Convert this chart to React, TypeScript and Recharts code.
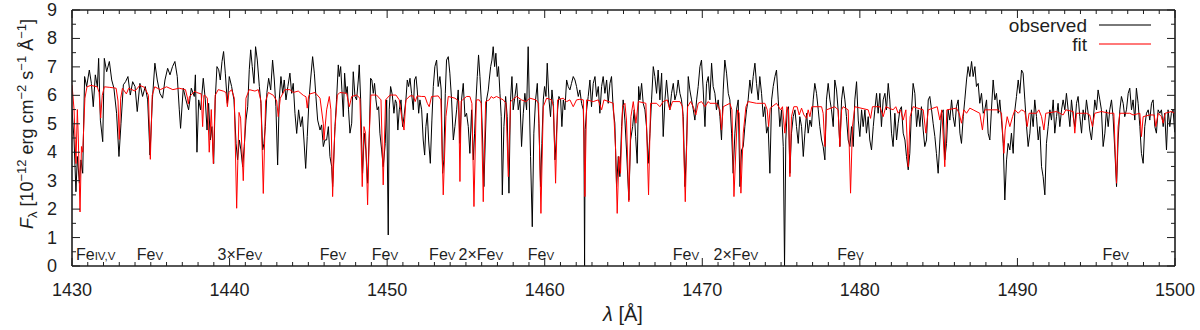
import React from "react";
import { LineChart, Line, XAxis, YAxis, ReferenceDot, Legend } from "recharts";

// wavelength [Å], flux [1e-12 erg cm^-2 s^-1 Å^-1]
const observed: [number, number][] = [
  [1430.0, 5.5], [1430.13, 4.43], [1430.25, 2.61], [1430.34, 3.85], [1430.47, 2.91], [1430.57, 3.73], [1430.68, 3.26],
  [1430.8, 6.66], [1430.93, 6.31], [1431.1, 6.89], [1431.23, 6.42], [1431.35, 5.6], [1431.48, 6.72], [1431.61, 6.3],
  [1431.69, 7.3], [1431.8, 5.13], [1431.95, 4.37], [1432.05, 7.3], [1432.2, 6.83], [1432.37, 7.19], [1432.52, 6.54],
  [1432.66, 6.25], [1432.83, 5.37], [1432.98, 3.85], [1433.11, 5.02], [1433.26, 6.37], [1433.4, 6.48], [1433.55, 6.66],
  [1433.7, 6.01], [1433.85, 6.48], [1434.0, 6.31], [1434.14, 5.43], [1434.31, 6.42], [1434.48, 5.96], [1434.65, 6.31],
  [1434.8, 5.84], [1434.95, 3.9], [1435.1, 5.84], [1435.26, 7.13], [1435.41, 6.54], [1435.58, 6.07], [1435.75, 5.9],
  [1435.9, 6.54], [1436.07, 6.95], [1436.22, 6.72], [1436.38, 7.01], [1436.53, 7.19], [1436.68, 6.66], [1436.81, 5.49],
  [1436.89, 4.84], [1437.06, 6.25], [1437.23, 5.84], [1437.4, 5.49], [1437.57, 6.25], [1437.76, 5.96],
  [1437.83, 6.72], [1437.93, 4.0], [1438.04, 5.84], [1438.16, 5.49], [1438.33, 6.6], [1438.46, 5.84], [1438.57, 4.78],
  [1438.67, 5.72], [1438.78, 4.43], [1438.88, 4.9], [1438.99, 3.6], [1439.09, 5.84], [1439.2, 7.01], [1439.31, 6.9],
  [1439.41, 6.54], [1439.52, 7.19], [1439.62, 7.54], [1439.73, 6.78], [1439.86, 5.72], [1439.98, 6.66], [1440.13, 6.31],
  [1440.28, 5.84], [1440.41, 4.31], [1440.51, 3.73], [1440.62, 4.43], [1440.72, 4.08], [1440.83, 3.49], [1440.93, 4.2],
  [1441.04, 5.13], [1441.15, 5.6], [1441.25, 6.9], [1441.34, 7.6], [1441.44, 7.01], [1441.55, 6.42], [1441.65, 7.71],
  [1441.76, 7.24], [1441.89, 6.31], [1441.99, 5.72], [1442.1, 4.08], [1442.18, 4.3], [1442.27, 4.9], [1442.37, 6.1],
  [1442.48, 6.6], [1442.61, 6.19], [1442.73, 7.24], [1442.84, 6.54], [1442.94, 5.6], [1443.05, 3.55], [1443.15, 5.84],
  [1443.26, 6.66], [1443.37, 6.07], [1443.47, 6.54], [1443.58, 5.84], [1443.7, 6.31], [1443.83, 6.78], [1443.94, 6.07],
  [1444.04, 6.42], [1444.15, 5.37], [1444.26, 4.66], [1444.38, 5.49], [1444.51, 4.9], [1444.62, 5.25], [1444.72, 4.43],
  [1444.83, 3.43], [1444.93, 4.55], [1445.04, 5.84], [1445.14, 6.54], [1445.27, 7.36], [1445.38, 6.78], [1445.48, 5.96],
  [1445.59, 5.13], [1445.74, 4.78], [1445.84, 4.96], [1445.95, 4.2], [1446.05, 4.43],
  [1446.16, 4.43], [1446.27, 4.9], [1446.37, 3.85], [1446.48, 3.49], [1446.54, 2.79], [1446.69, 4.9], [1446.79, 5.84],
  [1446.9, 7.07], [1446.96, 6.66], [1447.05, 7.01], [1447.13, 6.19], [1447.22, 5.25], [1447.3, 6.78], [1447.39, 6.07],
  [1447.47, 6.31], [1447.55, 5.49], [1447.64, 4.67], [1447.75, 5.02], [1447.85, 6.83], [1447.96, 5.96], [1448.06, 5.84],
  [1448.17, 6.54], [1448.23, 7.07], [1448.32, 5.84], [1448.38, 4.43], [1448.44, 3.26], [1448.55, 4.67], [1448.65, 4.08],
  [1448.76, 2.91], [1448.87, 4.67], [1448.95, 6.6], [1449.03, 6.54], [1449.12, 6.07], [1449.2, 6.42], [1449.29, 5.84],
  [1449.37, 5.49], [1449.46, 5.6], [1449.54, 4.67], [1449.65, 4.08], [1449.75, 3.49], [1449.88, 4.31], [1449.97, 5.84],
  [1450.07, 1.09], [1450.13, 5.49], [1450.22, 6.31], [1450.33, 6.01], [1450.43, 5.37], [1450.52, 5.84], [1450.6, 5.72],
  [1450.68, 4.78], [1450.77, 5.49], [1450.88, 5.84], [1450.98, 4.9], [1451.07, 5.25], [1451.19, 5.84], [1451.28, 6.54],
  [1451.36, 6.31], [1451.45, 6.6], [1451.55, 6.07], [1451.66, 5.49], [1451.74, 6.54], [1451.83, 6.66], [1451.91, 6.19],
  [1452.0, 5.37], [1452.08, 5.84], [1452.19, 5.49], [1452.29, 4.43], [1452.38, 3.9], [1452.46, 4.9], [1452.55, 5.37],
  [1452.63, 4.43], [1452.74, 3.61], [1452.84, 5.13], [1452.93, 6.31], [1453.03, 7.01], [1453.14, 7.24], [1453.24, 6.31],
  [1453.35, 6.66], [1453.43, 6.19], [1453.52, 3.26], [1453.6, 3.73], [1453.69, 6.07], [1453.77, 7.24], [1453.88, 7.36],
  [1453.98, 6.78], [1454.09, 5.84], [1454.2, 4.43], [1454.3, 4.9],
  [1454.41, 5.49], [1454.51, 6.19], [1454.62, 4.31], [1454.72, 5.84], [1454.83, 6.42], [1454.94, 5.25], [1455.04, 5.37],
  [1455.15, 4.9], [1455.25, 3.96], [1455.36, 5.49], [1455.47, 3.73], [1455.55, 4.67], [1455.64, 5.84], [1455.72, 6.66],
  [1455.8, 7.42], [1455.89, 6.66], [1455.97, 5.84], [1456.06, 4.43], [1456.14, 2.79], [1456.23, 4.43], [1456.31, 5.84],
  [1456.42, 6.19], [1456.48, 6.54], [1456.57, 7.01], [1456.65, 7.24], [1456.73, 7.71], [1456.82, 7.01], [1456.9, 7.48],
  [1456.99, 6.66], [1457.07, 7.01], [1457.16, 6.07], [1457.24, 5.25], [1457.31, 2.5], [1457.41, 4.9], [1457.52, 5.96],
  [1457.62, 5.25], [1457.73, 2.56], [1457.83, 5.84], [1457.92, 6.66], [1458.0, 5.49], [1458.11, 5.96], [1458.22, 6.42],
  [1458.32, 5.49], [1458.43, 5.84], [1458.53, 4.2], [1458.64, 5.37], [1458.74, 6.07], [1458.85, 5.49], [1458.95, 7.71],
  [1459.02, 5.84], [1459.1, 3.85], [1459.21, 1.38], [1459.31, 4.67], [1459.42, 5.84], [1459.53, 6.42], [1459.63, 5.02],
  [1459.74, 2.79], [1459.82, 4.31], [1459.91, 5.84], [1459.99, 6.31], [1460.08, 5.96], [1460.16, 7.13], [1460.27, 5.84],
  [1460.37, 5.25], [1460.46, 6.19], [1460.54, 5.72], [1460.65, 3.73], [1460.73, 4.43], [1460.82, 5.49], [1460.9, 5.96],
  [1461.01, 5.84], [1461.09, 4.9], [1461.18, 5.84], [1461.28, 5.49], [1461.39, 6.54], [1461.49, 6.31], [1461.6, 6.19],
  [1461.7, 6.42], [1461.81, 6.66], [1461.92, 6.54], [1462.02, 6.31], [1462.13, 5.96], [1462.23, 6.19], [1462.34, 5.72],
  [1462.45, 5.49], [1462.49, 4.5], [1462.53, 0.0], [1462.57, 4.8], [1462.66, 5.49], [1462.76, 5.96], [1462.87, 6.54],
  [1462.97, 5.6], [1463.08, 6.42], [1463.19, 6.66], [1463.29, 5.96], [1463.4, 6.31], [1463.5, 5.37], [1463.61, 6.31],
  [1463.71, 6.66], [1463.82, 6.07], [1463.93, 6.54], [1464.03, 5.72], [1464.14, 6.42], [1464.24, 6.66], [1464.35, 5.49],
  [1464.45, 5.02], [1464.56, 2.79], [1464.67, 3.85], [1464.77, 3.14], [1464.88, 4.9], [1464.98, 5.84], [1465.09, 5.13],
  [1465.19, 4.08], [1465.34, 2.32], [1465.45, 4.43], [1465.58, 4.9], [1465.68, 5.49], [1465.77, 4.55], [1465.87, 3.61],
  [1465.96, 6.31], [1466.04, 5.84], [1466.15, 6.42], [1466.25, 5.72], [1466.36, 5.49], [1466.46, 4.9], [1466.57, 3.61],
  [1466.68, 4.67], [1466.78, 5.84], [1466.89, 7.01], [1466.99, 6.66], [1467.1, 6.07], [1467.2, 6.89], [1467.31, 5.84],
  [1467.42, 6.78], [1467.52, 4.55], [1467.63, 5.84], [1467.73, 6.54], [1467.84, 5.84], [1467.94, 5.49], [1468.05, 6.07],
  [1468.16, 6.42], [1468.26, 5.84], [1468.37, 6.07], [1468.47, 6.54], [1468.58, 6.07], [1468.68, 5.84], [1468.79, 5.25],
  [1468.9, 2.79], [1469.0, 4.2], [1469.11, 6.66], [1469.21, 6.19], [1469.32, 5.84], [1469.43, 5.49], [1469.53, 5.13],
  [1469.64, 5.84], [1469.74, 6.31], [1469.85, 7.01], [1469.95, 7.24], [1470.06, 6.19], [1470.17, 4.9], [1470.27, 6.42],
  [1470.38, 6.66], [1470.48, 5.84],
  [1470.59, 7.13], [1470.69, 6.31], [1470.8, 6.07], [1470.9, 5.49], [1471.01, 5.84], [1471.12, 5.25], [1471.22, 4.43],
  [1471.33, 6.19], [1471.43, 7.24], [1471.54, 6.78], [1471.65, 6.07], [1471.75, 5.84], [1471.86, 4.67], [1471.96, 3.26],
  [1472.07, 4.67], [1472.17, 5.49], [1472.28, 5.84], [1472.39, 2.79], [1472.49, 4.08], [1472.6, 4.2], [1472.7, 4.9],
  [1472.81, 5.49], [1472.91, 5.84], [1473.02, 6.54], [1473.13, 6.07], [1473.23, 6.66], [1473.34, 7.13], [1473.44, 6.42],
  [1473.55, 5.84], [1473.65, 6.66], [1473.76, 6.07], [1473.87, 5.25], [1473.97, 5.6], [1474.08, 4.67], [1474.18, 4.9],
  [1474.29, 3.26], [1474.4, 5.84], [1474.5, 6.31], [1474.61, 6.66], [1474.71, 6.89], [1474.82, 5.84], [1474.92, 4.9],
  [1475.03, 5.49], [1475.14, 4.2], [1475.22, 0.0], [1475.3, 4.43], [1475.39, 5.49], [1475.47, 5.6], [1475.56, 3.26],
  [1475.66, 4.67], [1475.77, 5.25], [1475.88, 5.49], [1475.98, 4.9], [1476.09, 4.31], [1476.19, 5.25], [1476.3, 4.9],
  [1476.41, 3.85], [1476.51, 4.67], [1476.62, 5.37], [1476.72, 4.67], [1476.83, 5.13], [1476.93, 4.9], [1477.04, 5.84],
  [1477.14, 6.42], [1477.25, 6.07], [1477.36, 5.49], [1477.46, 4.9], [1477.57, 4.43], [1477.67, 4.2], [1477.78, 3.73],
  [1477.88, 5.84], [1477.99, 6.42], [1478.1, 5.84], [1478.2, 5.49], [1478.31, 4.9], [1478.41, 6.54], [1478.52, 6.19],
  [1478.62, 5.49], [1478.73, 4.2],
  [1478.84, 5.84], [1478.94, 6.31], [1479.05, 5.84], [1479.15, 5.25], [1479.26, 4.43], [1479.37, 4.2], [1479.47, 4.9],
  [1479.58, 4.2], [1479.68, 5.84], [1479.79, 6.48], [1479.9, 5.13], [1480.0, 4.55], [1480.11, 5.49], [1480.21, 4.9],
  [1480.32, 5.49], [1480.42, 4.67], [1480.53, 5.25], [1480.63, 4.43], [1480.74, 4.08], [1480.85, 4.9], [1480.95, 5.49],
  [1481.06, 6.07], [1481.16, 5.37], [1481.27, 6.07], [1481.37, 4.9], [1481.48, 5.84], [1481.59, 6.07], [1481.69, 5.49],
  [1481.8, 6.42], [1481.9, 5.84], [1482.01, 4.67], [1482.11, 4.2], [1482.22, 5.37], [1482.33, 4.43], [1482.43, 5.02],
  [1482.54, 5.49], [1482.64, 5.6], [1482.75, 4.67], [1482.86, 4.43], [1482.96, 3.85], [1483.07, 3.38], [1483.17, 3.96],
  [1483.28, 5.49], [1483.38, 6.42], [1483.49, 6.07], [1483.6, 4.9], [1483.7, 5.49], [1483.81, 4.9], [1483.91, 5.6],
  [1484.02, 4.78], [1484.12, 4.2], [1484.23, 4.43], [1484.34, 5.84], [1484.44, 5.96], [1484.55, 5.49], [1484.65, 5.02],
  [1484.76, 4.55], [1484.86, 3.96], [1484.97, 3.26], [1485.08, 4.43], [1485.18, 5.37], [1485.29, 5.49], [1485.39, 3.73],
  [1485.5, 4.31], [1485.6, 5.49], [1485.71, 5.13], [1485.82, 5.84], [1485.92, 5.25], [1486.03, 4.9], [1486.13, 5.6],
  [1486.24, 5.84], [1486.35, 4.67], [1486.45, 4.31], [1486.56, 5.25], [1486.66, 5.84], [1486.77, 6.54], [1486.87, 7.01],
  [1486.98, 6.66],
  [1487.09, 7.19], [1487.19, 6.66], [1487.3, 7.01], [1487.4, 6.31], [1487.51, 6.42], [1487.61, 5.72], [1487.72, 6.07],
  [1487.83, 5.37], [1487.93, 5.49], [1488.04, 5.84], [1488.14, 4.67], [1488.25, 4.43], [1488.35, 5.49], [1488.46, 6.54],
  [1488.57, 5.84], [1488.67, 6.07], [1488.78, 5.37], [1488.88, 5.84], [1488.99, 5.13], [1489.1, 4.31], [1489.2, 2.32],
  [1489.31, 3.73], [1489.41, 4.31], [1489.52, 4.08], [1489.62, 4.67], [1489.73, 3.96], [1489.84, 5.49], [1489.94, 5.96],
  [1490.05, 6.54], [1490.15, 6.07], [1490.26, 6.89], [1490.36, 6.78], [1490.47, 5.84], [1490.58, 4.9], [1490.68, 4.2],
  [1490.79, 4.67], [1490.89, 5.49], [1491.0, 4.9], [1491.1, 5.84], [1491.21, 5.25], [1491.32, 4.43], [1491.42, 4.9],
  [1491.53, 3.49], [1491.63, 3.14], [1491.74, 2.5], [1491.84, 4.31], [1491.95, 4.9], [1492.06, 5.49], [1492.16, 5.13],
  [1492.27, 5.84], [1492.37, 4.67], [1492.48, 5.25], [1492.58, 5.72], [1492.69, 4.9], [1492.8, 5.49], [1492.9, 5.84],
  [1493.01, 5.49], [1493.11, 6.07], [1493.22, 5.49], [1493.33, 4.9], [1493.43, 5.84], [1493.54, 5.25], [1493.64, 4.9],
  [1493.75, 5.72], [1493.85, 5.96], [1493.96, 5.25], [1494.07, 4.67], [1494.17, 5.49], [1494.28, 5.13], [1494.38, 5.84],
  [1494.49, 5.37], [1494.59, 4.78], [1494.7, 4.43], [1494.81, 5.13], [1494.91, 5.84], [1495.02, 5.49], [1495.12, 6.19],
  [1495.23, 5.84], [1495.33, 5.49], [1495.44, 4.2], [1495.55, 4.67],
  [1495.65, 5.49], [1495.76, 4.9], [1495.86, 5.49], [1495.97, 5.84], [1496.07, 5.25], [1496.18, 4.08], [1496.29, 2.79],
  [1496.39, 4.43], [1496.5, 5.49], [1496.6, 5.96], [1496.71, 5.72], [1496.81, 5.25], [1496.92, 5.49], [1497.03, 6.07],
  [1497.13, 6.25], [1497.24, 5.49], [1497.34, 5.84], [1497.45, 5.13], [1497.55, 6.25], [1497.66, 5.72], [1497.77, 4.9],
  [1497.87, 3.96], [1497.98, 3.61], [1498.08, 4.9], [1498.19, 5.37], [1498.3, 5.49], [1498.4, 5.13], [1498.51, 5.72],
  [1498.61, 5.84], [1498.72, 4.9], [1498.82, 4.67], [1498.93, 5.49], [1499.04, 5.37], [1499.14, 5.49], [1499.25, 4.9],
  [1499.35, 5.37], [1499.46, 4.08], [1499.56, 5.49], [1499.67, 4.9], [1499.77, 5.37], [1499.88, 5.49], [1499.98, 4.7],
];

const fitted: [number, number][] = [
  [1430.0, 6.37], [1430.13, 5.5], [1430.25, 3.6], [1430.34, 5.5], [1430.4, 4.5], [1430.51, 1.9], [1430.6, 4.2],
  [1430.68, 4.0], [1430.82, 5.9], [1430.95, 6.3], [1431.2, 6.35], [1431.6, 6.3], [1431.72, 6.1], [1431.82, 5.2],
  [1431.92, 6.0], [1432.05, 6.3], [1432.4, 6.28], [1432.8, 6.25], [1432.92, 5.8], [1433.0, 4.45], [1433.09, 5.9],
  [1433.2, 6.25], [1433.45, 6.05], [1433.6, 6.25], [1434.0, 6.15], [1434.3, 6.35], [1434.6, 6.28], [1434.85, 6.0],
  [1434.97, 3.75], [1435.09, 6.0], [1435.25, 6.3], [1435.6, 6.2], [1436.0, 6.3], [1436.4, 6.2], [1436.8, 6.25],
  [1437.2, 6.2], [1437.33, 5.9], [1437.38, 5.7], [1437.45, 5.95], [1437.8, 6.15],
  [1437.91, 6.1], [1438.2, 6.05], [1438.29, 4.9], [1438.37, 6.0], [1438.44, 6.0], [1438.59, 5.9], [1438.71, 4.0],
  [1438.84, 5.5], [1438.97, 3.6], [1439.09, 6.0], [1439.28, 6.2], [1439.6, 6.15], [1439.77, 6.1], [1439.86, 5.6],
  [1439.96, 6.1], [1440.13, 6.2], [1440.3, 5.9], [1440.45, 2.03], [1440.6, 5.4], [1440.7, 5.2], [1440.87, 3.0],
  [1441.04, 5.9], [1441.25, 6.2], [1441.61, 6.15], [1441.82, 6.2], [1441.99, 5.8], [1442.14, 2.55], [1442.29, 5.8],
  [1442.46, 6.1], [1442.78, 6.0], [1442.99, 5.8], [1443.09, 5.25], [1443.22, 5.9], [1443.51, 6.2], [1443.83, 6.2],
  [1444.04, 6.1], [1444.36, 6.15], [1444.68, 6.0], [1444.85, 5.95], [1444.93, 5.55], [1445.01, 5.95], [1445.1, 6.05],
  [1445.42, 6.1], [1445.74, 5.9], [1445.95, 5.0],
  [1445.99, 4.43], [1446.16, 5.49], [1446.33, 5.96], [1446.43, 5.49], [1446.54, 2.44], [1446.67, 4.67], [1446.84, 6.01],
  [1447.0, 6.1], [1447.43, 6.07], [1447.6, 5.6], [1447.75, 5.96], [1448.06, 6.01], [1448.27, 5.9], [1448.42, 2.79],
  [1448.53, 4.9], [1448.63, 4.67], [1448.76, 2.15], [1448.87, 4.67], [1448.97, 6.01], [1449.33, 6.01], [1449.61, 5.84],
  [1449.75, 2.85], [1449.9, 5.84], [1450.18, 6.01], [1450.56, 6.01], [1450.77, 5.84], [1450.92, 5.25], [1451.07, 4.78],
  [1451.19, 5.84], [1451.45, 5.98], [1451.66, 5.98], [1451.78, 5.78], [1451.91, 5.98], [1452.19, 5.96], [1452.4, 5.96],
  [1452.55, 5.72], [1452.67, 5.6], [1452.82, 5.96], [1453.24, 5.98], [1453.41, 5.84], [1453.56, 2.5], [1453.73, 5.25],
  [1453.88, 5.96], [1454.3, 5.9],
  [1454.45, 5.84], [1454.54, 5.8], [1454.62, 2.97], [1454.7, 5.8], [1454.79, 5.84], [1455.04, 5.96], [1455.25, 5.96],
  [1455.38, 5.72], [1455.51, 2.09], [1455.66, 5.84], [1455.85, 5.84], [1455.97, 5.72], [1456.1, 2.26], [1456.25, 5.78],
  [1456.48, 5.84], [1456.61, 5.96], [1456.73, 5.9], [1456.94, 5.96], [1457.37, 5.84], [1457.54, 5.72], [1457.69, 3.14],
  [1457.83, 5.78], [1458.22, 5.96], [1458.53, 5.84], [1458.81, 5.78], [1459.06, 5.9], [1459.44, 5.84], [1459.61, 5.72],
  [1459.76, 1.85], [1459.91, 5.6], [1460.12, 5.9], [1460.44, 5.84], [1460.56, 5.6], [1460.69, 2.91], [1460.82, 5.84],
  [1461.18, 5.9], [1461.39, 5.78], [1461.6, 5.84], [1461.81, 5.6], [1462.02, 5.84],
  [1462.23, 5.86], [1462.45, 5.84], [1462.55, 2.44], [1462.66, 5.84], [1463.08, 5.78], [1463.4, 5.84], [1463.61, 5.49],
  [1463.76, 5.84], [1464.35, 5.72], [1464.5, 4.08], [1464.6, 1.85], [1464.71, 3.85], [1464.81, 3.26], [1464.94, 5.6],
  [1465.09, 5.72], [1465.19, 5.13], [1465.34, 2.26], [1465.47, 5.25], [1465.62, 5.78], [1465.79, 5.02], [1465.94, 5.78],
  [1466.42, 5.72], [1466.59, 2.5], [1466.72, 5.72], [1467.1, 5.72], [1467.31, 5.6], [1467.52, 5.78], [1467.78, 5.84],
  [1467.94, 5.49], [1468.11, 5.78], [1468.58, 5.78], [1468.75, 5.6], [1468.92, 2.26], [1469.07, 5.6], [1469.26, 5.78],
  [1469.43, 5.6], [1469.59, 5.31], [1469.74, 5.72], [1469.95, 5.78], [1470.17, 5.6], [1470.38, 5.78],
  [1470.48, 5.72], [1470.9, 5.72], [1471.12, 5.49], [1471.22, 4.78], [1471.33, 5.6], [1471.75, 5.72], [1471.88, 5.49],
  [1472.01, 2.44], [1472.13, 4.08], [1472.24, 5.49], [1472.34, 5.37], [1472.45, 2.56], [1472.6, 4.67], [1472.77, 5.6],
  [1472.91, 5.78], [1473.44, 5.72], [1473.97, 5.72], [1474.12, 5.49], [1474.21, 4.9], [1474.31, 5.55], [1474.71, 5.72],
  [1474.97, 5.49], [1475.09, 5.6], [1475.24, 4.67], [1475.37, 5.6], [1475.47, 5.49], [1475.56, 3.14], [1475.66, 5.25],
  [1475.81, 5.6], [1476.02, 5.6], [1476.15, 5.31], [1476.3, 5.55], [1476.45, 5.31], [1476.62, 5.19], [1476.72, 5.49],
  [1476.83, 5.25], [1476.95, 5.6], [1477.57, 5.6], [1477.67, 5.37], [1477.78, 4.2], [1477.88, 5.49], [1478.41, 5.6],
  [1478.62, 5.49], [1478.73, 4.2], [1478.84, 5.49],
  [1478.94, 5.6], [1479.26, 5.49], [1479.41, 2.56], [1479.53, 4.9], [1479.68, 5.6], [1480.53, 5.49], [1480.68, 5.19],
  [1480.8, 5.6], [1481.27, 5.6], [1481.48, 5.25], [1481.65, 5.6], [1482.11, 5.49], [1482.28, 5.6], [1482.43, 5.37],
  [1482.58, 5.49], [1482.75, 5.13], [1482.92, 5.49], [1483.07, 3.49], [1483.19, 5.25], [1483.38, 5.6], [1484.02, 5.49],
  [1484.19, 4.67], [1484.34, 5.49], [1484.91, 5.6], [1485.08, 5.13], [1485.2, 5.49], [1485.39, 3.49], [1485.52, 5.49],
  [1486.13, 5.55], [1486.3, 5.37], [1486.45, 5.02], [1486.6, 5.49], [1486.77, 5.37], [1486.98, 5.55],
  [1487.19, 5.49], [1487.61, 5.37], [1487.78, 4.78], [1487.93, 5.49], [1488.78, 5.49], [1488.99, 5.37], [1489.14, 3.96],
  [1489.22, 4.78], [1489.35, 5.25], [1489.52, 4.9], [1489.69, 5.25], [1489.84, 5.49], [1490.05, 5.37], [1490.26, 5.49],
  [1490.47, 5.43], [1490.62, 4.9], [1490.74, 5.37], [1491.21, 5.37], [1491.36, 5.49], [1491.53, 5.25], [1491.68, 4.78],
  [1491.8, 5.37], [1492.48, 5.43], [1492.9, 5.31], [1493.07, 5.49], [1493.54, 5.43], [1493.64, 4.67], [1493.75, 5.37],
  [1494.38, 5.37], [1494.59, 5.31], [1494.76, 4.9], [1494.91, 5.37], [1495.33, 5.43],
  [1495.86, 5.37], [1496.12, 5.37], [1496.2, 4.08], [1496.29, 2.91], [1496.39, 4.9], [1496.5, 5.37], [1497.13, 5.37],
  [1497.34, 5.31], [1497.77, 5.37], [1497.87, 4.55], [1497.98, 5.25], [1498.4, 5.31], [1498.68, 5.31], [1498.78, 4.9],
  [1498.93, 5.37], [1499.14, 5.25], [1499.25, 5.02], [1499.37, 5.37], [1499.77, 5.43], [1499.98, 5.37],
];

// line identifications: position, prefix, ionisation stage (small caps)
const lineIds: { wave: number; pre: string; ion: string }[] = [
  { wave: 1431.5, pre: "Fe", ion: "IV,V" },
  { wave: 1434.95, pre: "Fe", ion: "V" },
  { wave: 1440.65, pre: "3×Fe", ion: "V" },
  { wave: 1446.56, pre: "Fe", ion: "V" },
  { wave: 1449.86, pre: "Fe", ion: "V" },
  { wave: 1453.5, pre: "Fe", ion: "V" },
  { wave: 1455.95, pre: "2×Fe", ion: "V" },
  { wave: 1459.76, pre: "Fe", ion: "V" },
  { wave: 1468.96, pre: "Fe", ion: "V" },
  { wave: 1472.13, pre: "2×Fe", ion: "V" },
  { wave: 1479.4, pre: "Fe", ion: "V" },
  { wave: 1496.24, pre: "Fe", ion: "V" },
];

const series = [
  { name: "observed", color: "#000000" },
  { name: "fit", color: "#ff0000" },
];

const xTicks = Array.from({ length: 71 }, (_, i) => 1430 + i);
const yTicks = Array.from({ length: 19 }, (_, i) => i * 0.5);

const FONT = "'Liberation Sans', Arial, sans-serif";
const INK = "#1e1e1e";

const obsRows = observed.map(([wave, flux]) => ({ wave, flux }));
const fitRows = fitted.map(([wave, flux]) => ({ wave, flux }));

const tickLen = (major: boolean) => (major ? 8 : 4);

function BottomTick(p: any) {
  const v = p.payload.value;
  const major = v % 10 === 0;
  return (
    <g>
      <line x1={p.x} x2={p.x} y1={p.y} y2={p.y - tickLen(major)} stroke={INK} strokeWidth={1} />
      {major && (
        <text x={p.x} y={p.y + 30} textAnchor="middle" fontSize={18} fontFamily={FONT} fill={INK}>
          {v}
        </text>
      )}
    </g>
  );
}

function TopTick(p: any) {
  const major = p.payload.value % 10 === 0;
  return <line x1={p.x} x2={p.x} y1={p.y} y2={p.y + tickLen(major)} stroke={INK} strokeWidth={1} />;
}

function LeftTick(p: any) {
  const v = p.payload.value;
  const major = Number.isInteger(v);
  return (
    <g>
      <line x1={p.x} x2={p.x + tickLen(major)} y1={p.y} y2={p.y} stroke={INK} strokeWidth={1} />
      {major && (
        <text x={p.x - 15} y={p.y + 6} textAnchor="end" fontSize={18} fontFamily={FONT} fill={INK}>
          {v}
        </text>
      )}
    </g>
  );
}

function RightTick(p: any) {
  const major = Number.isInteger(p.payload.value);
  return <line x1={p.x} x2={p.x - tickLen(major)} y1={p.y} y2={p.y} stroke={INK} strokeWidth={1} />;
}

const IdLabel = (id: { pre: string; ion: string }) => (p: any) => (
  <text x={p.cx} y={p.cy} textAnchor="middle" fontSize={16} fontFamily={FONT} fill={INK}>
    {id.pre}
    <tspan fontSize={11.5}>{id.ion}</tspan>
  </text>
);

const YTitle = () => (
  <text transform="translate(33,124) rotate(-90)" textAnchor="middle" fontSize={18} fontFamily={FONT} fill={INK}>
    <tspan fontStyle="italic">F</tspan>
    <tspan fontSize={13} dy={4}>λ</tspan>
    <tspan dy={-4}> [10</tspan>
    <tspan fontSize={13} dy={-7}>−12</tspan>
    <tspan dy={7}> erg cm</tspan>
    <tspan fontSize={13} dy={-7}>−2</tspan>
    <tspan dy={7}> s</tspan>
    <tspan fontSize={13} dy={-7}>−1</tspan>
    <tspan dy={7}> Å</tspan>
    <tspan fontSize={13} dy={-7}>−1</tspan>
    <tspan dy={7}>]</tspan>
  </text>
);

const XTitle = () => (
  <text x={623} y={321} textAnchor="middle" fontSize={20} fontFamily={FONT} fill={INK}>
    <tspan fontStyle="italic">λ</tspan> [Å]
  </text>
);

const LegendBox = () => (
  <svg width={1200} height={60} style={{ display: "block" }}>
    {series.map((s, i) => (
      <g key={s.name}>
        <text x={1087} y={32 + i * 19} textAnchor="end" fontSize={19} fontFamily={FONT} fill={INK}>
          {s.name}
        </text>
        <line x1={1099} x2={1151} y1={25 + i * 19} y2={25 + i * 19} stroke={s.color} strokeOpacity={0.7} strokeWidth={1.3} />
      </g>
    ))}
  </svg>
);

export default function App() {
  const axisLine = { stroke: INK, strokeWidth: 1.6 };
  return (
    <div style={{ position: "absolute", left: 0, top: 0, width: 1200, height: 330, background: "#fff" }}>
      <LineChart width={1200} height={330} margin={{ top: 0, right: 0, bottom: 0, left: 0 }}>
        <XAxis
          dataKey="wave"
          type="number"
          domain={[1430, 1500]}
          ticks={xTicks}
          interval={0}
          allowDataOverflow
          height={64}
          axisLine={axisLine}
          tickLine={false}
          tickSize={0}
          tickMargin={0}
          tick={BottomTick}
          label={{ content: XTitle }}
        />
        <XAxis
          xAxisId="top"
          orientation="top"
          dataKey="wave"
          type="number"
          domain={[1430, 1500]}
          ticks={xTicks}
          interval={0}
          allowDataOverflow
          height={10}
          axisLine={axisLine}
          tickLine={false}
          tickSize={0}
          tickMargin={0}
          tick={TopTick}
        />
        <YAxis
          type="number"
          domain={[0, 9]}
          ticks={yTicks}
          interval={0}
          allowDataOverflow
          width={72}
          axisLine={axisLine}
          tickLine={false}
          tickSize={0}
          tickMargin={0}
          tick={LeftTick}
          label={{ content: YTitle }}
        />
        <YAxis
          yAxisId="right"
          orientation="right"
          type="number"
          domain={[0, 9]}
          ticks={yTicks}
          interval={0}
          allowDataOverflow
          width={25}
          axisLine={axisLine}
          tickLine={false}
          tickSize={0}
          tickMargin={0}
          tick={RightTick}
        />
        <Legend
          layout="horizontal"
          verticalAlign="middle"
          align="center"
          wrapperStyle={{ top: 0, left: 0, width: 1200, height: 60, pointerEvents: "none" }}
          content={LegendBox}
        />
        <Line
          data={obsRows}
          dataKey="flux"
          name="observed"
          type="linear"
          stroke={series[0].color}
          strokeWidth={1}
          dot={false}
          activeDot={false}
          isAnimationActive={false}
        />
        <Line
          data={fitRows}
          dataKey="flux"
          name="fit"
          type="linear"
          stroke={series[1].color}
          strokeWidth={1}
          dot={false}
          activeDot={false}
          isAnimationActive={false}
        />
        {lineIds.map((id) => (
          <ReferenceDot key={id.wave} x={id.wave} y={0.2} r={0} shape={IdLabel(id)} />
        ))}
      </LineChart>
    </div>
  );
}
